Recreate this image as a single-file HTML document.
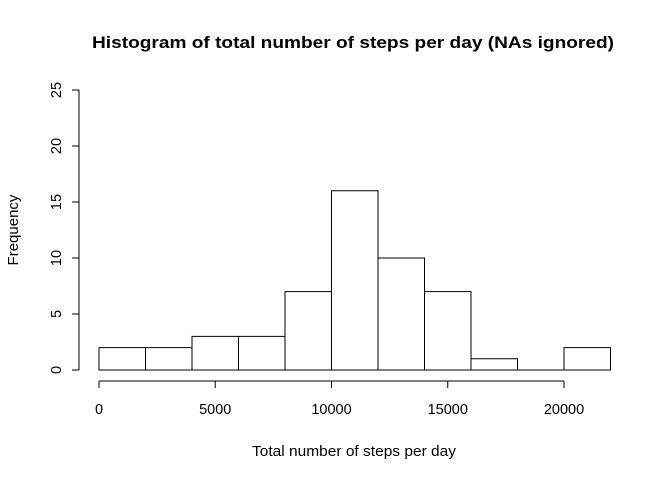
<!DOCTYPE html>
<html><head><meta charset="utf-8"><style>
html,body{margin:0;padding:0;background:#fff;}
svg{display:block;font-family:"Liberation Sans",Arial,sans-serif;}
</style></head><body>
<svg id="chart" width="672" height="480">
<text x="353" y="48" text-anchor="middle" font-size="17" font-weight="bold" textLength="522" lengthAdjust="spacingAndGlyphs">Histogram of total number of steps per day (NAs ignored)</text>
<text x="354" y="456" text-anchor="middle" font-size="15" textLength="204" lengthAdjust="spacingAndGlyphs">Total number of steps per day</text>
<text transform="translate(18,230) rotate(-90)" text-anchor="middle" font-size="15">Frequency</text>
<g id="bars"></g><g id="xaxis"></g><g id="yaxis"></g>
</svg>
<script>
const binStarts=[0,2000,4000,6000,8000,10000,12000,14000,16000,18000,20000];
const binWidth=2000;
const counts=[2,2,3,3,7,16,10,7,1,0,2];
const xTicks=[0,5000,10000,15000,20000];
const yTicks=[0,5,10,15,20,25];
const NS="http://www.w3.org/2000/svg";
const xs=v=>99+(v/20000)*465;
const ys=v=>370-v*11.2;
function mk(tag,attrs,parent){const e=document.createElementNS(NS,tag);for(const k in attrs)e.setAttribute(k,attrs[k]);parent.appendChild(e);return e;}
const bars=document.getElementById('bars');
binStarts.forEach((b,i)=>{
 const x0=xs(b),x1=xs(b+binWidth),y0=ys(0),y1=ys(counts[i]);
 const r=mk('path',{d:`M${x0},${y0}L${x0},${y1}L${x1},${y1}L${x1},${y0}Z`,fill:'none',stroke:'#000','stroke-width':1},bars);
 
 
});
const xa=document.getElementById('xaxis');


mk('line',{x1:xs(xTicks[0]),x2:xs(xTicks[xTicks.length-1]),y1:381,y2:381,stroke:'#000'},xa);
xTicks.forEach(t=>{
 mk('line',{x1:xs(t),x2:xs(t),y1:381,y2:388,stroke:'#000'},xa);
 const tx=mk('text',{x:xs(t),y:414,'text-anchor':'middle','font-size':14.5},xa);
 tx.textContent=t;
 
 
});
const ya=document.getElementById('yaxis');


mk('line',{x1:79,x2:79,y1:ys(yTicks[0]),y2:ys(yTicks[yTicks.length-1]),stroke:'#000'},ya);
yTicks.forEach(t=>{
 mk('line',{x1:72,x2:79,y1:ys(t),y2:ys(t),stroke:'#000'},ya);
 const tx=mk('text',{transform:`translate(61,${ys(t)}) rotate(-90)`,'text-anchor':'middle','font-size':14.5},ya);
 tx.textContent=t;
 
 
});
</script>
</body></html>
